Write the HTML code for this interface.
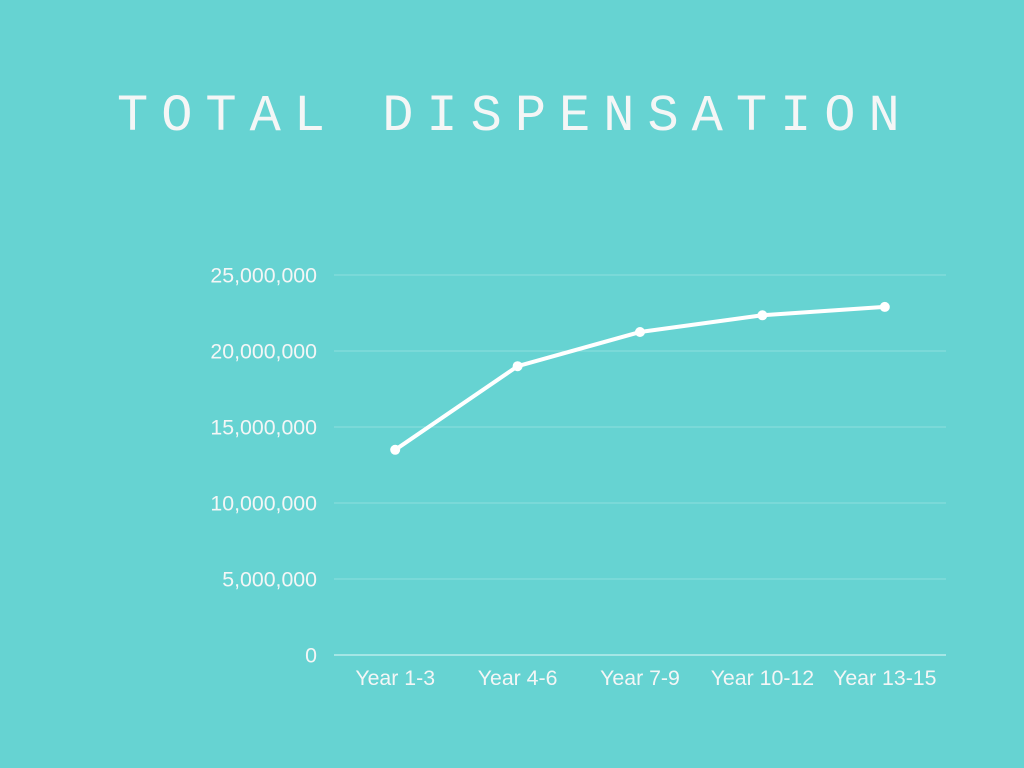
<!DOCTYPE html>
<html><head><meta charset="utf-8"><style>
html,body{margin:0;padding:0;background:#66d3d2;}
svg{display:block;}
</style></head><body>
<svg width="1024" height="768" id="c">
<rect width="1024" height="768" fill="#66d3d2"/>
<text x="117" y="130" font-family="Liberation Mono, monospace" font-size="52" letter-spacing="13" fill="#f4f6f6">TOTAL DISPENSATION</text>
<g id="grid"></g><g id="xl"></g><g id="plot"></g>
</svg>
<script>
const categories=["Year 1-3","Year 4-6","Year 7-9","Year 10-12","Year 13-15"];
const values=[13500000,19000000,21250000,22350000,22900000];
const ticks=[0,5000000,10000000,15000000,20000000,25000000];
const tickLabels=["0","5,000,000","10,000,000","15,000,000","20,000,000","25,000,000"];
const NS="http://www.w3.org/2000/svg";
const x0=334,x1=946,y0=655,y1=275,ymax=25000000;
const yS=v=>y0-(y0-y1)*v/ymax;
const xS=i=>x0+(x1-x0)/categories.length*(i+0.5);
function mk(t,a,p){const e=document.createElementNS(NS,t);for(const k in a)e.setAttribute(k,a[k]);p.appendChild(e);return e;}
const g=document.getElementById('grid');
ticks.forEach((t,i)=>{
 const l=mk('line',{x1:x0,x2:x1,y1:yS(t),y2:yS(t),stroke:i==0?'#b8eceb':'#8fdfde','stroke-width':i==0?1.5:1},g);
 
 
 const tx=mk('text',{x:317,y:yS(t)+7.5,'text-anchor':'end','font-family':'Liberation Sans, sans-serif','font-size':21.3,fill:'#f4f6f6'},g);
 tx.textContent=tickLabels[i];
 
 
});
const xl=document.getElementById('xl');
categories.forEach((c,i)=>{
 const tx=mk('text',{x:xS(i),y:685,'text-anchor':'middle','font-family':'Liberation Sans, sans-serif','font-size':21.3,fill:'#f4f6f6'},xl);
 tx.textContent=c;
 
 
});
const p=document.getElementById('plot');
const line=mk('polyline',{points:values.map((v,i)=>xS(i)+','+yS(v)).join(' '),fill:'none',stroke:'#fff','stroke-width':4,'stroke-linejoin':'round'},p);


values.forEach((v,i)=>{
 const c=mk('circle',{cx:xS(i),cy:yS(v),r:5,fill:'#fff'},p);
 
 
});
</script>
</body></html>
